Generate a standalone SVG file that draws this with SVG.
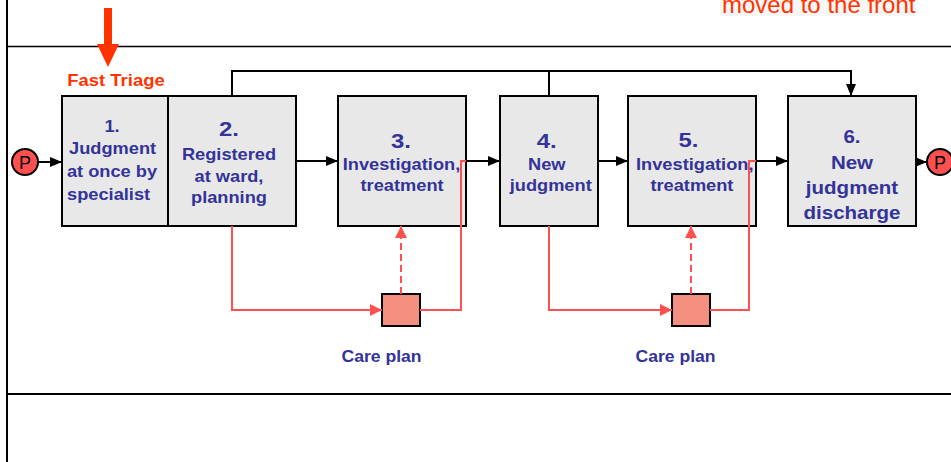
<svg xmlns="http://www.w3.org/2000/svg" width="951" height="462" viewBox="0 0 951 462">
  <style>
    .box { fill: #e8e8e8; stroke: #000; stroke-width: 2; }
    .plan { fill: #f59080; stroke: #000; stroke-width: 2; }
    .lane { stroke: #000; fill: none; }
    .lbl { font-family: "Liberation Sans", Arial, sans-serif; font-weight: bold; fill: #333399; text-anchor: middle; font-size: 16px; }
    .num { font-size: 21px; }
    .big { font-size: 18px; }
    .flow { stroke: #000; stroke-width: 2; fill: none; }
    .care { stroke: #ff5050; stroke-width: 2; fill: none; }
    .dash { stroke-dasharray: 7 4; }
    .token { fill: #ff5050; stroke: #000; stroke-width: 2; }
    .tokentxt { font-family: "Liberation Sans", Arial, sans-serif; font-size: 18px; fill: #000; text-anchor: middle; }
    .note { font-family: "Liberation Sans", Arial, sans-serif; fill: #ff3300; }
  </style>
  <defs>
    <marker id="ah" markerUnits="userSpaceOnUse" markerWidth="12" markerHeight="10" refX="12" refY="5" orient="auto">
      <path d="M0,0 L12,5 L0,10 z" fill="#000"/>
    </marker>
    <marker id="ahRed" markerUnits="userSpaceOnUse" markerWidth="12" markerHeight="12" refX="12" refY="6" orient="auto">
      <path d="M0,0 L12,6 L0,12 z" fill="#ff5050"/>
    </marker>
  </defs>

  <rect width="951" height="462" fill="#fff"/>

  <!-- swimlane borders -->
  <g id="lanes">
    <line class="lane" x1="7" y1="0" x2="7" y2="462" stroke-width="2"/>
    <line class="lane" x1="7" y1="46.5" x2="951" y2="46.5" stroke-width="1.5"/>
    <line class="lane" x1="7" y1="394" x2="951" y2="394" stroke-width="2"/>
  </g>

  <!-- annotation at the top right -->
  <g id="note">
    <rect x="720" y="0" width="196" height="16" fill="#f7f7f7"/>
    <text class="note" x="722" y="12.5" font-size="24">moved to the front</text>
  </g>

  <!-- fast triage marker -->
  <g id="fast-triage">
    <polygon points="104,8 112,8 112,44 119,44 108,67 97,44 104,44" fill="#ff3300"/>
    <text class="note" transform="matrix(1.12 0 0 1 -13.92 0)" x="116" y="86" font-size="16.5" font-weight="bold" text-anchor="middle">Fast Triage</text>
  </g>

  <g id="start">
    <circle class="token" cx="25" cy="162" r="13"/>
    <text class="tokentxt" x="25" y="169">P</text>
  </g>

  <!-- text groups are widened 14% around the box centre -->
  <g id="node-1">
    <rect class="box" x="62" y="96" width="106" height="130"/>
    <g transform="matrix(1.14 0 0 1 -15.68 0)">
      <text class="lbl" x="112" y="132">1.</text>
      <text class="lbl" x="112.5" y="154">Judgment</text>
      <text class="lbl" x="112" y="177">at once by</text>
      <text class="lbl" x="109" y="200">specialist</text>
    </g>
  </g>

  <g id="node-2">
    <rect class="box" x="168" y="96" width="128" height="130"/>
    <g transform="matrix(1.14 0 0 1 -32.06 0)">
      <text class="lbl num" x="229" y="136">2.</text>
      <text class="lbl" x="229" y="160">Registered</text>
      <text class="lbl" x="229" y="182">at ward,</text>
      <text class="lbl" x="229" y="203">planning</text>
    </g>
  </g>

  <g id="node-3">
    <rect class="box" x="338" y="96" width="128" height="130"/>
    <g transform="matrix(1.14 0 0 1 -56.21 0)">
      <text class="lbl num" x="401" y="148">3.</text>
      <text class="lbl" x="401.5" y="170">Investigation,</text>
      <text class="lbl" x="402" y="191">treatment</text>
    </g>
  </g>

  <g id="node-4">
    <rect class="box" x="500" y="96" width="98" height="130"/>
    <g transform="matrix(1.14 0 0 1 -76.86 0)">
      <text class="lbl num" x="547" y="148">4.</text>
      <text class="lbl" x="547" y="170">New</text>
      <text class="lbl" x="550.5" y="191">judgment</text>
    </g>
  </g>

  <g id="node-5">
    <rect class="box" x="628" y="96" width="128" height="130"/>
    <g transform="matrix(1.14 0 0 1 -96.95 0)">
      <text class="lbl num" x="689" y="147" font-size="20">5.</text>
      <text class="lbl" x="694.5" y="170">Investigation,</text>
      <text class="lbl" x="692" y="191">treatment</text>
    </g>
  </g>

  <g id="node-6">
    <rect class="box" x="788" y="96" width="128" height="130"/>
    <g transform="matrix(1.14 0 0 1 -119.28 0)">
      <text class="lbl big" x="852" y="143">6.</text>
      <text class="lbl big" x="852" y="169">New</text>
      <text class="lbl big" x="852" y="194">judgment</text>
      <text class="lbl big" x="852" y="219">discharge</text>
    </g>
  </g>

  <g id="end">
    <circle class="token" cx="940" cy="162" r="13"/>
    <text class="tokentxt" x="940" y="169">P</text>
  </g>

  <g id="care-plan-1">
    <rect class="plan" x="382" y="294" width="38" height="32"/>
    <text class="lbl" transform="matrix(1.1 0 0 1 -38.15 0)" x="381.5" y="362">Care plan</text>
  </g>

  <g id="care-plan-2">
    <rect class="plan" x="672" y="294" width="38" height="32"/>
    <text class="lbl" transform="matrix(1.1 0 0 1 -67.55 0)" x="675.5" y="362">Care plan</text>
  </g>

  <g id="connectors">
    <!-- main flow -->
    <line class="flow" x1="38" y1="162" x2="62" y2="162" marker-end="url(#ah)"/>
    <line class="flow" x1="296" y1="161" x2="338" y2="161" marker-end="url(#ah)"/>
    <line class="flow" x1="466" y1="161" x2="500" y2="161" marker-end="url(#ah)"/>
    <line class="flow" x1="598" y1="161" x2="628" y2="161" marker-end="url(#ah)"/>
    <line class="flow" x1="756" y1="161" x2="788" y2="161" marker-end="url(#ah)"/>
    <line class="flow" x1="916" y1="162" x2="927" y2="162" marker-end="url(#ah)"/>
    <!-- bypass routes over the top -->
    <polyline class="flow" points="232,96 232,71 851,71 851,96" marker-end="url(#ah)"/>
    <line class="flow" x1="549" y1="96" x2="549" y2="71" stroke-width="3"/>

    <!-- care plan loops -->
    <polyline class="care" points="232,226 232,310 382,310" marker-end="url(#ahRed)"/>
    <line class="care dash" x1="401" y1="294" x2="401" y2="226" marker-end="url(#ahRed)"/>
    <polyline class="care" points="420,310 461,310 461,161 466,161"/>

    <polyline class="care" points="549,226 549,310 672,310" marker-end="url(#ahRed)"/>
    <line class="care dash" x1="691" y1="294" x2="691" y2="226" marker-end="url(#ahRed)"/>
    <polyline class="care" points="710,310 749,310 749,161 756,161"/>
  </g>
</svg>
